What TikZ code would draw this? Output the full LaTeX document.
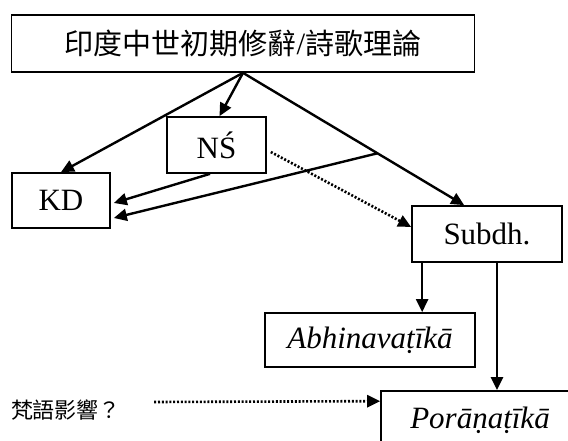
\documentclass[tikz,border=0pt]{standalone}
\usepackage{fontspec}
\setmainfont{Liberation Serif}
\newfontfamily\cjk{Noto Sans CJK TC}
\usetikzlibrary{arrows.meta,calc}

\tikzset{
  box/.style={draw, line width=1.7pt, inner sep=0pt, font=\fontsize{31}{37}\selectfont},
  link/.style={line width=2.4pt, -{Triangle[length=13pt,width=12pt]}},
  hint/.style={link, line width=2.6pt, dash pattern=on 2pt off 1.8pt},
}

\begin{document}
\begin{tikzpicture}[x=1pt,y=-1pt]
  \useasboundingbox (0,0) rectangle (568,441);
  \clip (0,0) rectangle (568,441);

  % boxes
  \node[box, minimum width=463pt, minimum height=57pt] (top) at (243,43.5)
    {{\cjk\fontsize{29}{35}\selectfont 印度中世初期修辭}/{\cjk\fontsize{29}{35}\selectfont 詩歌理論}};
  \node[box, minimum width=99pt, minimum height=56pt] (NS) at (216.5,145) {NŚ};
  \node[box, minimum width=98pt, minimum height=55pt] (KD) at (61,200.5) {KD};
  \node[box, minimum width=150pt, minimum height=56pt] (Subdh) at (487,234) {Subdh.};
  \node[box, minimum width=210pt, minimum height=54pt] (Abh) at (370,340) {\itshape Abhinavaṭīkā};
  \node[box, minimum width=198pt, minimum height=58pt] (Por) at (480,420) {\itshape Porāṇaṭīkā};
  \node[font=\cjk\fontsize{22}{26}\selectfont, inner sep=0pt] (skt) at (66,410) {梵語影響？};

  % helper points
  \coordinate (subTop) at ($(Subdh.north west)+(53,0)$);
  \coordinate (branch) at ($(top.south)!0.608!(subTop)$);

  % solid links
  \draw[link] (top.south) -- (KD.north);
  \draw[link] (top.south) -- ($(NS.north)+(3,0)$);
  \draw[link] (top.south) -- (subTop);
  \draw[link] ($(NS.south)+(-6.5,0)$) -- ($(KD.east)+(3,2.5)$);
  \draw[link] (branch) -- ($(KD.east)+(3,17.5)$);
  \draw[link] ($(Subdh.south west)+(11,0)$) coordinate (s1) -- (s1 |- Abh.north);
  \draw[link] ($(Subdh.south)+(10,0)$) coordinate (s2) -- (s2 |- Por.north);

  % dotted links
  \draw[hint] ($(NS.east)+(4,7)$) -- ($(Subdh.west)+(0,-7)$);
  \draw[hint] ($(skt.east)+(33,-8)$) -- ($(Por.north west)+(0,11)$);
\end{tikzpicture}
\end{document}
